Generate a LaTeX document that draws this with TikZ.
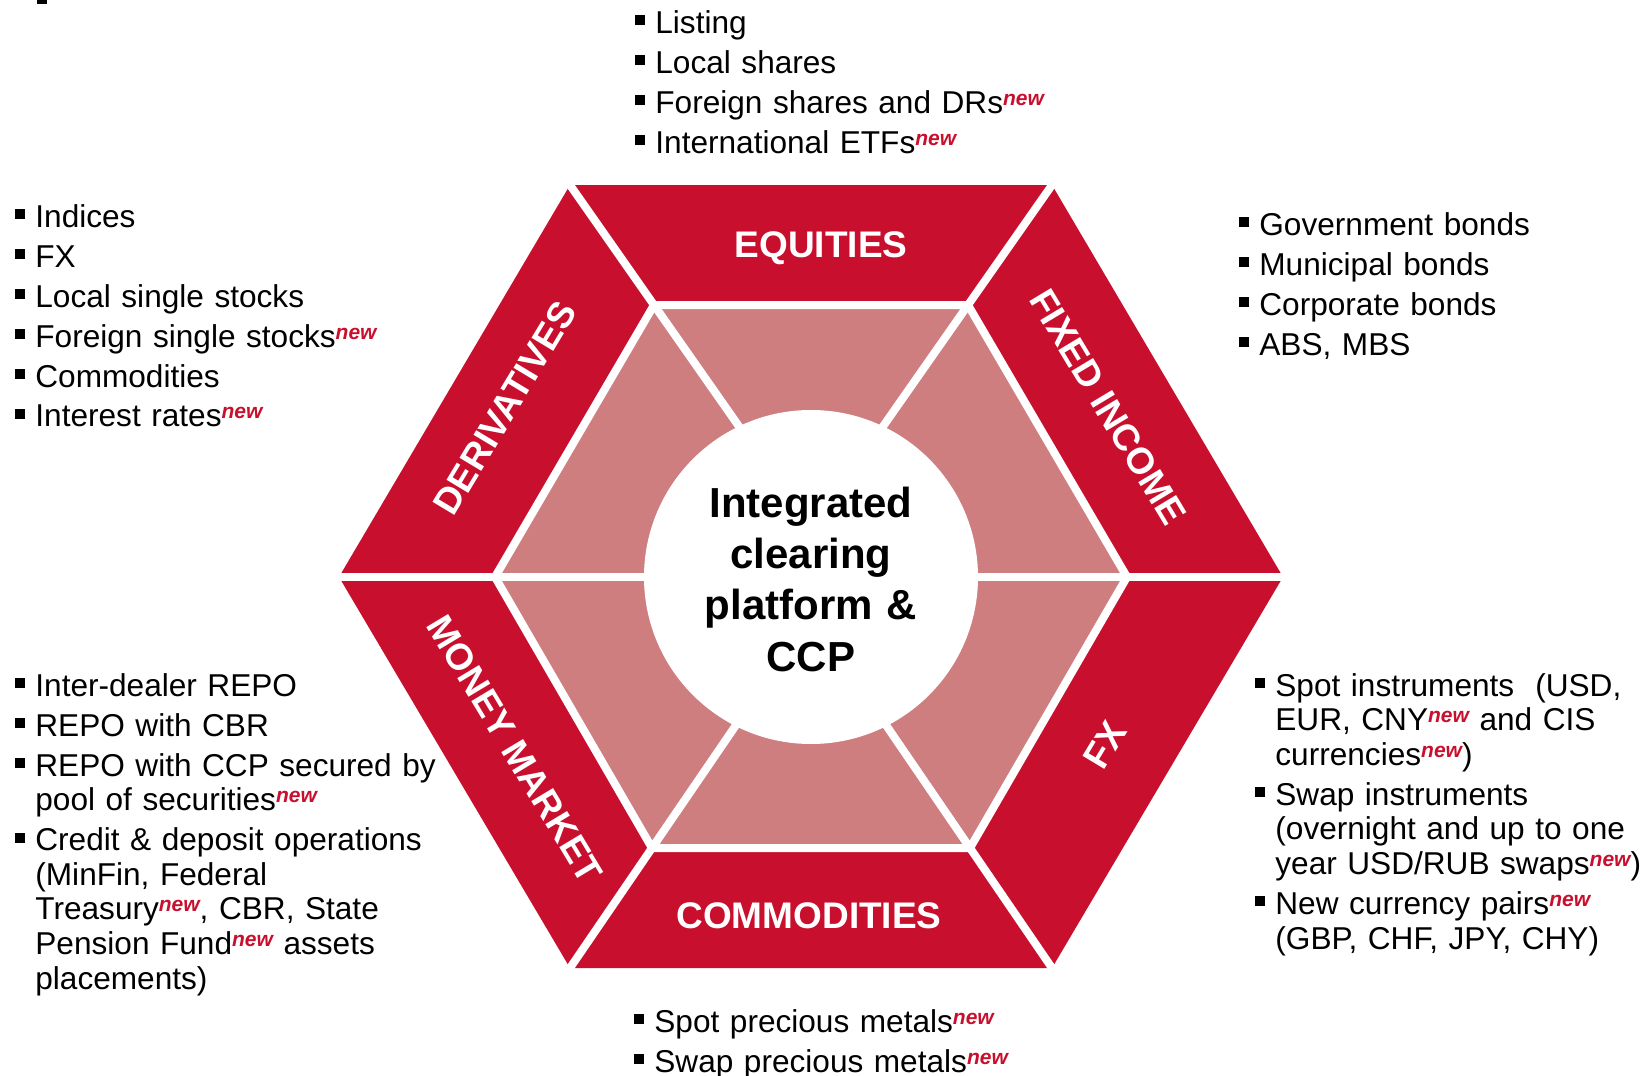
\documentclass[tikz,border=0pt]{standalone}
\usepackage{fontspec}
\setmainfont{Liberation Sans}
\usetikzlibrary{calc}
\definecolor{segred}{RGB}{200,16,46}
\definecolor{segpink}{RGB}{207,126,128}

% square bullet with hanging indent, and the small red tag
\newcommand{\bulfirst}{\setlength{\parskip}{2.7pt}\hangindent=10pt\hangafter=1\makebox[10pt][l]{\rule[4pt]{5pt}{5pt}}}
\newcommand{\bul}{\par\noindent\bulfirst}
\newcommand{\isnew}{\raisebox{4pt}{\fontsize{10.5}{11}\selectfont\bfseries\itshape\color{segred}new}}

\tikzset{
  itemlist/.style={anchor=base west, inner sep=0pt, text width=300pt, font=\fontsize{15.8}{17.3}\selectfont},
  seglabel/.style={inner sep=0pt, text=white, font=\fontsize{18.5}{20}\selectfont\bfseries},
}

\begin{document}
\begin{tikzpicture}[x=0.5pt,y=-0.5pt]
    \useasboundingbox (0,0) rectangle (1645,1076);
    \fill (37,0) rectangle (47,4);
    % corners of the ring
    \coordinate (oL) at (339,577);
    \coordinate (oTL) at (570,185);
    \coordinate (oTR) at (1052,185);
    \coordinate (oR) at (1283,577);
    \coordinate (oBR) at (1052,968);
    \coordinate (oBL) at (570,968);
    \coordinate (iL) at (495,577);
    \coordinate (iTL) at (654,305);
    \coordinate (iTR) at (968,305);
    \coordinate (iR) at (1127,577);
    \coordinate (iBR) at (970,848);
    \coordinate (iBL) at (652,848);
    \fill[segred] (oL) -- (oTL) -- (oTR) -- (oR) -- (oBR) -- (oBL) -- cycle;
    \fill[segpink] (iL) -- (iTL) -- (iTR) -- (iR) -- (iBR) -- (iBL) -- cycle;
    \draw[white, line width=4pt] (iL) -- (iTL) -- (iTR) -- (iR) -- (iBR) -- (iBL) -- cycle;
    \foreach \c in {L,TL,TR,R,BR,BL}{
        \draw[white, line width=4pt] ($(o\c)!-0.1!(i\c)$) -- ($(o\c)!2.5!(i\c)$);
    }
    \fill[white] (811,577) circle (83.5pt);
    \node[text width=150pt, align=center, anchor=base, inner sep=0pt, font=\fontsize{21}{25.7}\selectfont\bfseries] (hub) at (811,517) {Integrated\\clearing\\platform \&\\CCP};

    % segment names
    \node[seglabel] (equ) at (821,248) {EQUITIES};
    \node[seglabel] (com) at (809,916) {COMMODITIES};
    \node[seglabel, rotate=59] (der) at (505,408) {DERIVATIVES};
    \node[seglabel, rotate=-59] (fix) at (1108,407) {FIXED INCOME};
    \node[seglabel, rotate=-59] (mon) at (515,749) {MONEY MARKET};
    \node[seglabel, rotate=59] (fx) at (1105,745) {FX};

    % product lists
    \node[itemlist] (equlist) at (635,33) {\bulfirst Listing
        \bul Local shares
        \bul Foreign shares and DRs\isnew
        \bul International ETFs\isnew\par};
    \node[itemlist] (derlist) at (15,227) {\bulfirst Indices
        \bul FX
        \bul Local single stocks
        \bul Foreign single stocks\isnew
        \bul Commodities
        \bul Interest rates\isnew\par};
    \node[itemlist] (fixlist) at (1239,235) {\bulfirst Government bonds
        \bul Municipal bonds
        \bul Corporate bonds
        \bul ABS, MBS\par};
    \node[itemlist] (monlist) at (15,696) {\bulfirst Inter-dealer REPO
        \bul REPO with CBR
        \bul REPO with CCP secured by\newline pool of securities\isnew
        \bul Credit \& deposit operations\newline (MinFin, Federal\newline Treasury\isnew, CBR, State\newline Pension Fund\isnew{} assets\newline placements)\par};
    \node[itemlist] (fxlist) at (1255,696) {\bulfirst Spot instruments\ \ (USD,\newline EUR, CNY\isnew{} and CIS\newline currencies\isnew)
        \bul Swap instruments\newline (overnight and up to one\newline year USD/RUB swaps\isnew)
        \bul New currency pairs\isnew\newline (GBP, CHF, JPY, CHY)\par};
    \node[itemlist] (comlist) at (634,1032) {\bulfirst Spot precious metals\isnew
        \bul Swap precious metals\isnew\par};
\end{tikzpicture}
\end{document}
